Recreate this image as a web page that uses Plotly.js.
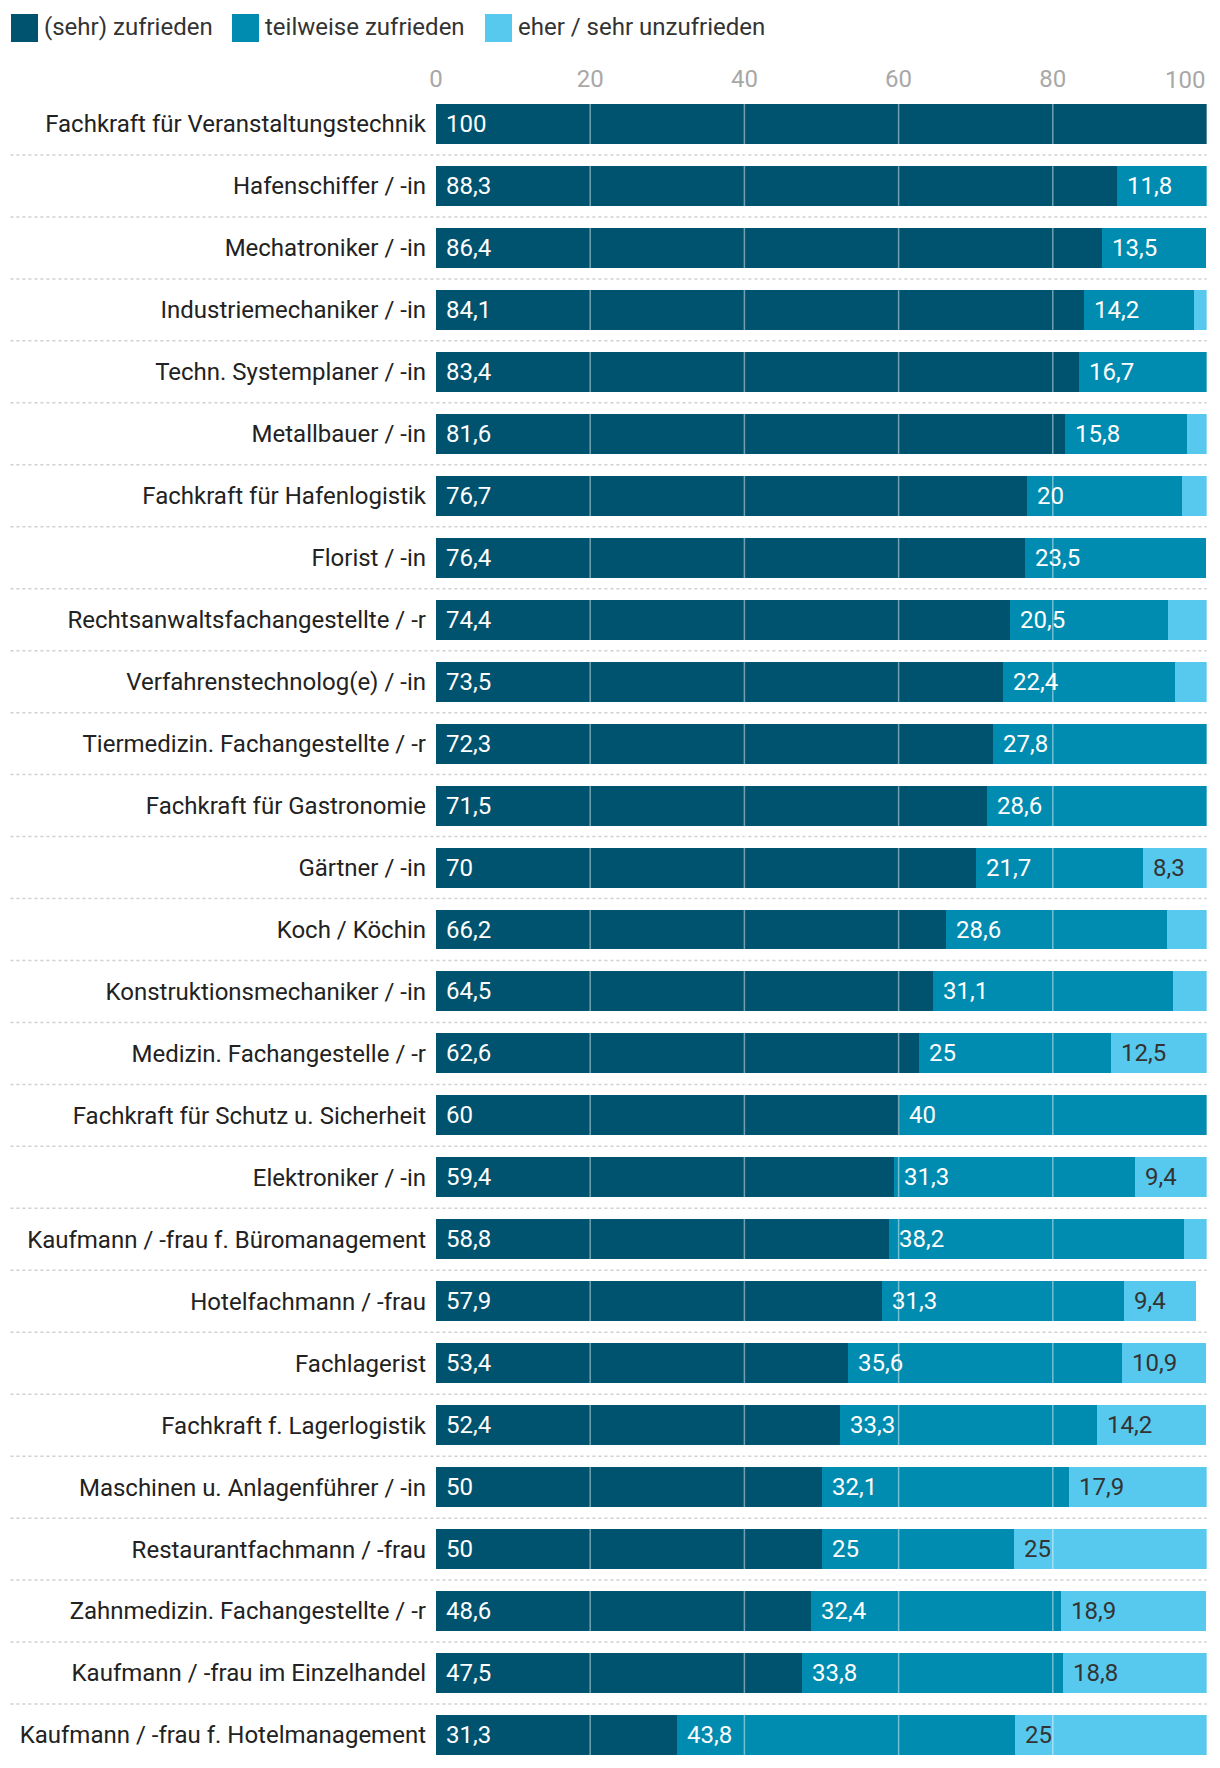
<!DOCTYPE html>
<html><head><meta charset="utf-8">
<script src="https://cdn.plot.ly/plotly-3.0.1.min.js"></script>
<style>body{margin:0;background:#fff}#chart{width:1220px;height:1768px}</style>
</head><body><div id="chart"></div>
<script>
const categories = [
 "Fachkraft für Veranstaltungstechnik","Hafenschiffer / -in","Mechatroniker / -in","Industriemechaniker / -in",
 "Techn. Systemplaner / -in","Metallbauer / -in","Fachkraft für Hafenlogistik","Florist / -in",
 "Rechtsanwaltsfachangestellte / -r","Verfahrenstechnolog(e) / -in","Tiermedizin. Fachangestellte / -r",
 "Fachkraft für Gastronomie","Gärtner / -in","Koch / Köchin","Konstruktionsmechaniker / -in",
 "Medizin. Fachangestelle / -r","Fachkraft für Schutz u. Sicherheit","Elektroniker / -in",
 "Kaufmann / -frau f. Büromanagement","Hotelfachmann / -frau","Fachlagerist","Fachkraft f. Lagerlogistik",
 "Maschinen u. Anlagenführer / -in","Restaurantfachmann / -frau","Zahnmedizin. Fachangestellte / -r",
 "Kaufmann / -frau im Einzelhandel","Kaufmann / -frau f. Hotelmanagement"];
const zufrieden = [100,88.3,86.4,84.1,83.4,81.6,76.7,76.4,74.4,73.5,72.3,71.5,70,66.2,64.5,62.6,60,59.4,58.8,57.9,53.4,52.4,50,50,48.6,47.5,31.3];
const teilweise = [0,11.8,13.5,14.2,16.7,15.8,20,23.5,20.5,22.4,27.8,28.6,21.7,28.6,31.1,25,40,31.3,38.2,31.3,35.6,33.3,32.1,25,32.4,33.8,43.8];
const unzufrieden = [0,0,0,1.7,0,2.6,3.3,0,5.1,4.1,0,0,8.3,5.2,4.4,12.5,0,9.4,3.0,9.4,10.9,14.2,17.9,25,18.9,18.8,25];
const seriesNames = ["(sehr) zufrieden","teilweise zufrieden","eher / sehr unzufrieden"];
const colors = ["#00536f","#008cb0","#58c9ee"];
const textColors = ["#ffffff","#ffffff","#333333"];
const tickVals = [0,20,40,60,80,100];

const FONT = "Roboto, 'Open Sans', sans-serif";
const FS = 24;
const series = [zufrieden, teilweise, unzufrieden];
const traces = series.map((vals,i)=>({
  type:'bar', orientation:'h', name:seriesNames[i], y:categories, x:vals,
  marker:{color:colors[i], line:{width:0}}, hoverinfo:'x+name', showlegend:false
}));

const annotations = [];
const shapes = [];
const fmt = v => String(v).replace('.', ',');
categories.forEach((c,r)=>{
  let start = 0;
  series.forEach((vals,i)=>{
    const v = vals[r];
    if (v >= 6) {
      annotations.push({x:start, y:c, xref:'x', yref:'y', text:fmt(v), showarrow:false,
        xanchor:'left', xshift:8, font:{family:FONT, size:FS, color:textColors[i]}});
    }
    start += v;
  });
  if (r < categories.length-1) {
    shapes.push({type:'line', xref:'paper', yref:'y', x0:-0.552, x1:1, y0:r+0.5, y1:r+0.5,
      line:{color:'#d0d0d0', width:1.5, dash:'dot'}, layer:'below'});
  }
});
// gridlines over bars
tickVals.slice(1).forEach(t=>{
  shapes.push({type:'line', xref:'x', yref:'paper', x0:t, x1:t, y0:0, y1:1,
    line:{color:'rgba(255,255,255,0.45)', width:1.5}, layer:'above'});
});
// custom legend
const legX = [11, 232, 485];
seriesNames.forEach((n,i)=>{
  const px0 = (legX[i]-436)/771, px1 = (legX[i]+27-436)/771;
  shapes.push({type:'rect', xref:'paper', yref:'paper', x0:px0, x1:px1,
    y0:(1768-2-42)/1673, y1:(1768-2-14)/1673, fillcolor:colors[i], line:{width:0}});
  annotations.push({xref:'paper', yref:'paper', x:(legX[i]+31-436)/771, y:(1768-2-27)/1673,
    text:n, showarrow:false, xanchor:'left', yanchor:'middle', font:{family:FONT, size:FS, color:'#333'}});
});
// last tick label right-aligned at edge
annotations.push({xref:'x', yref:'paper', x:100, y:1, yanchor:'bottom', xanchor:'right', yshift:-3,
  text:'100', showarrow:false, font:{family:FONT, size:FS, color:'#a8a8a8'}});

const layout = {
  width:1220, height:1768, barmode:'stack', bargap:0.355,
  margin:{l:436, r:13, t:93, b:2, pad:0},
  paper_bgcolor:'#fff', plot_bgcolor:'#fff',
  font:{family:FONT, size:FS, color:'#222'},
  xaxis:{side:'top', range:[0,100], tickvals:tickVals.slice(0,5), showgrid:false, zeroline:false,
    showline:false, ticks:'', tickfont:{size:FS, color:'#a8a8a8'}, fixedrange:true},
  yaxis:{autorange:'reversed', showgrid:false, zeroline:false, showline:false, ticks:'',
    ticklabelstandoff:9, tickfont:{size:FS, color:'#222'}, fixedrange:true},
  showlegend:false, annotations, shapes
};
Plotly.newPlot('chart', traces, layout, {displayModeBar:false, staticPlot:true});
</script></body></html>
